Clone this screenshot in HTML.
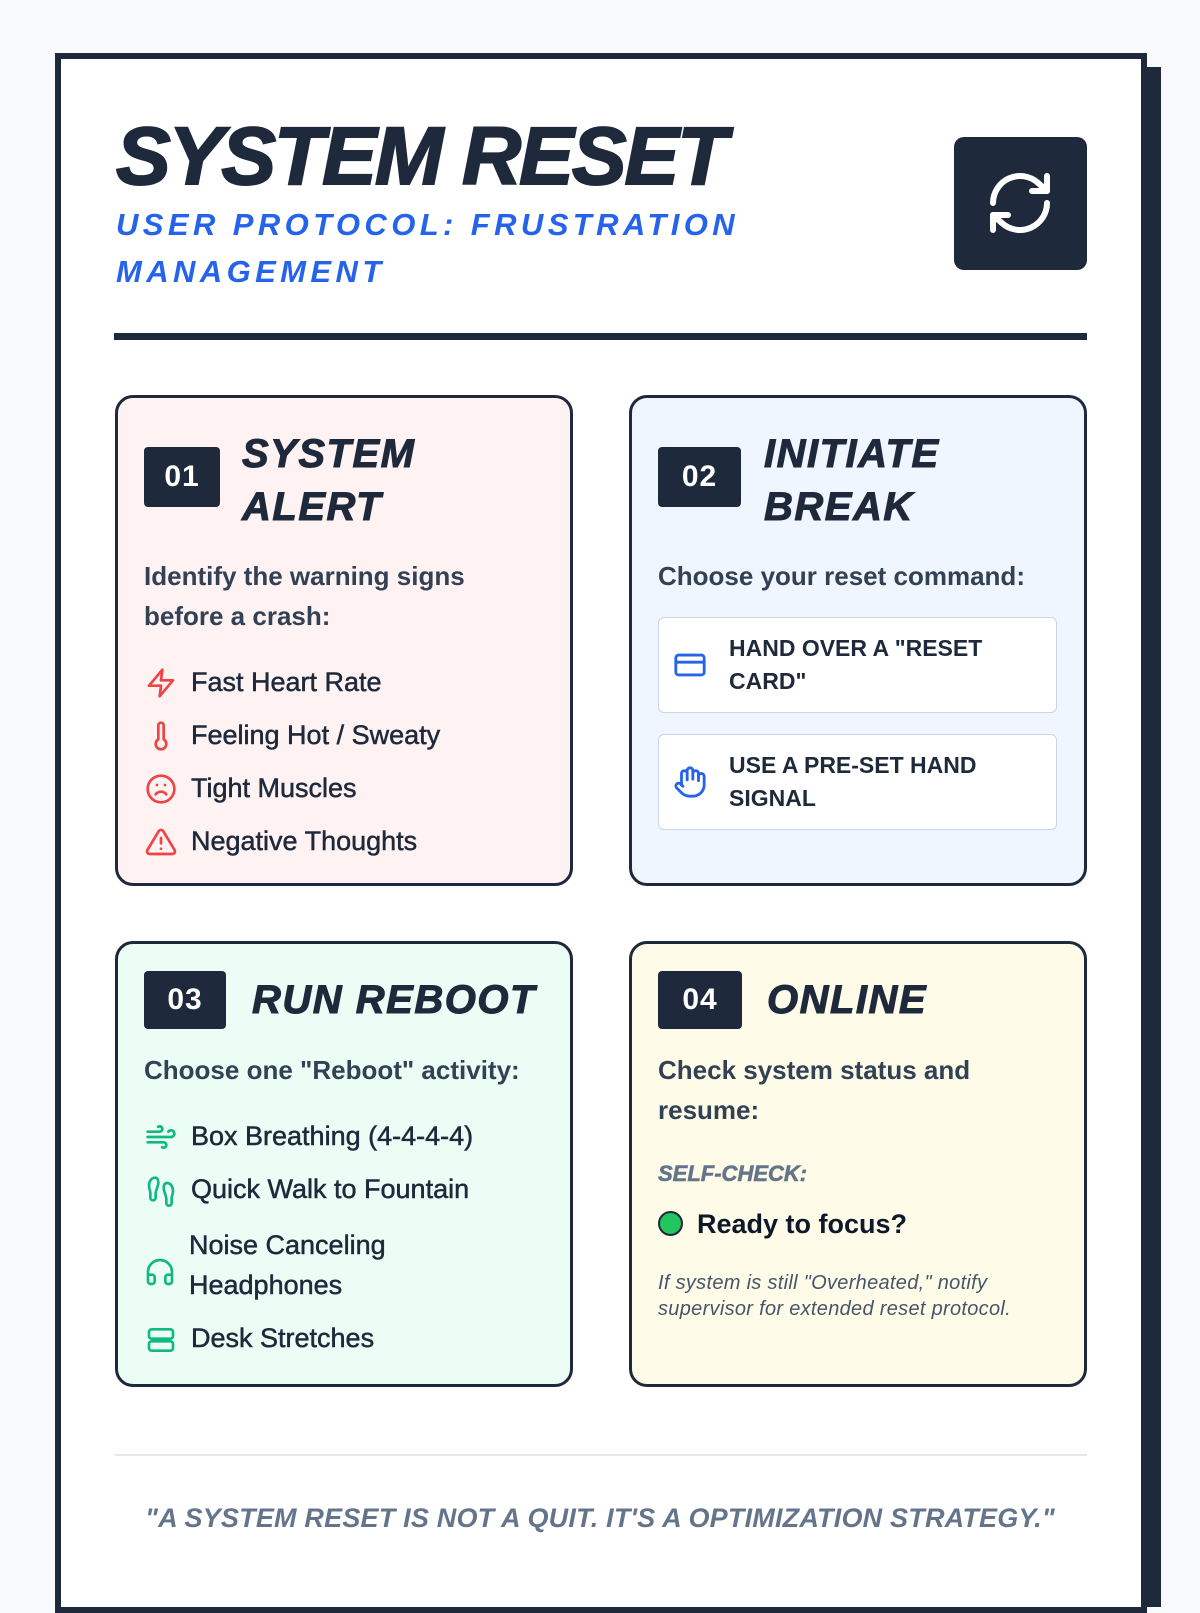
<!DOCTYPE html>
<html><head><meta charset="utf-8"><style>
*{margin:0;padding:0;box-sizing:border-box}
body{width:1200px;height:1600px;background:#f8fafc;position:relative;overflow:hidden;font-family:"Liberation Sans",sans-serif;color:#1e293b}
.a{position:absolute;white-space:nowrap}
.card{position:absolute;border:3px solid #1e293b;border-radius:18px}
.badge{position:absolute;background:#1e293b;color:#fff;font-weight:bold;font-size:30px;display:flex;align-items:center;justify-content:center;border-radius:4px;letter-spacing:1px}
.ttl{font-weight:bold;font-style:italic;font-size:40px;line-height:53px;letter-spacing:1.5px;color:#1e293b;-webkit-text-stroke:1px #1e293b}
.body{font-weight:bold;font-size:26px;line-height:40px;color:#334155}
.li{font-size:27px;line-height:53px;color:#1e293b;-webkit-text-stroke:0.5px #1e293b}
.btn{position:absolute;background:#fff;border:1.5px solid #cbd5e1;border-radius:6px}
.bt{font-weight:bold;font-size:23px;line-height:33px;color:#1e293b}
svg.i{position:absolute;fill:none;stroke-width:2;stroke-linecap:round;stroke-linejoin:round}
</style></head><body>
<div style="position:absolute;left:70px;top:67px;width:1091px;height:1540px;background:#1e293b"></div>
<div style="position:absolute;left:55px;top:53px;width:1092px;height:1560px;background:#fff;border:6px solid #1e293b"></div>

<div class="a" style="left:116px;top:107px;font-size:82px;line-height:100px;font-weight:bold;font-style:italic;letter-spacing:-2px;color:#1e293b;-webkit-text-stroke:2px #1e293b">SYSTEM RESET</div>
<div class="a" style="left:116px;top:201px;font-size:31px;line-height:47px;font-weight:bold;font-style:italic;letter-spacing:4.4px;color:#2563eb">USER PROTOCOL: FRUSTRATION<br>MANAGEMENT</div>
<div style="position:absolute;left:954px;top:137px;width:133px;height:133px;background:#1e293b;border-radius:10px"></div>
<svg class="i" style="left:984px;top:167px" width="72" height="72" viewBox="0 0 24 24" stroke="#fff" stroke-width="2.2"><path d="M3 12a9 9 0 0 1 15-6.7L21 8"/><path d="M21 3v5h-5"/><path d="M21 12a9 9 0 0 1-15 6.7L3 16"/><path d="M8 16H3v5"/></svg>
<div style="position:absolute;left:114px;top:333px;width:973px;height:7px;background:#1e293b"></div>

<!-- card 1 -->
<div class="card" style="left:115px;top:395px;width:458px;height:491px;background:#fef2f2"></div>
<div class="badge" style="left:144px;top:447px;width:76px;height:60px">01</div>
<div class="a ttl" style="left:242px;top:428px">SYSTEM<br>ALERT</div>
<div class="a body" style="left:144px;top:556px">Identify the warning signs<br>before a crash:</div>
<div class="a li" style="left:191px;top:656px">Fast Heart Rate<br>Feeling Hot / Sweaty<br>Tight Muscles<br>Negative Thoughts</div>
<svg class="i" style="left:145px;top:667px" width="32" height="32" viewBox="0 0 24 24" stroke="#ef4444"><path d="M13 2 3 14h9l-1 8 10-12h-9z"/></svg>
<svg class="i" style="left:145px;top:720px" width="32" height="32" viewBox="0 0 24 24" stroke="#ef4444"><path d="M14 4v10.5a4 4 0 1 1-4 0V4a2 2 0 0 1 4 0z"/></svg>
<svg class="i" style="left:145px;top:773px" width="32" height="32" viewBox="0 0 24 24" stroke="#ef4444"><circle cx="12" cy="12" r="10"/><path d="M16 16s-1.5-2-4-2-4 2-4 2"/><path d="M9 9h.01M15 9h.01"/></svg>
<svg class="i" style="left:145px;top:826px" width="32" height="32" viewBox="0 0 24 24" stroke="#ef4444"><path d="M10.3 3.9 1.8 18a2 2 0 0 0 1.7 3h17a2 2 0 0 0 1.7-3L13.7 3.9a2 2 0 0 0-3.4 0z"/><path d="M12 9v4M12 17h.01"/></svg>

<!-- card 2 -->
<div class="card" style="left:629px;top:395px;width:458px;height:491px;background:#eff6ff"></div>
<div class="badge" style="left:658px;top:447px;width:83px;height:60px">02</div>
<div class="a ttl" style="left:764px;top:428px">INITIATE<br>BREAK</div>
<div class="a body" style="left:658px;top:556px">Choose your reset command:</div>
<div class="btn" style="left:658px;top:617px;width:399px;height:96px"></div>
<div class="a bt" style="left:729px;top:632px">HAND OVER A "RESET<br>CARD"</div>
<svg class="i" style="left:673px;top:648px" width="34" height="34" viewBox="0 0 24 24" stroke="#2563eb"><rect x="2" y="5" width="20" height="14" rx="2"/><path d="M2 10h20"/></svg>
<div class="btn" style="left:658px;top:734px;width:399px;height:96px"></div>
<div class="a bt" style="left:729px;top:749px">USE A PRE-SET HAND<br>SIGNAL</div>
<svg class="i" style="left:673px;top:765px" width="34" height="34" viewBox="0 0 24 24" stroke="#2563eb"><path d="M18 11V6a2 2 0 0 0-4 0M14 10V4a2 2 0 0 0-4 0v2M10 10.5V6a2 2 0 0 0-4 0v8"/><path d="M18 8a2 2 0 1 1 4 0v6a8 8 0 0 1-8 8h-2c-2.8 0-4.5-.9-6-2.4l-3.6-3.6a2 2 0 0 1 2.8-2.8L7 15"/></svg>

<!-- card 3 -->
<div class="card" style="left:115px;top:941px;width:458px;height:446px;background:#ecfdf5"></div>
<div class="badge" style="left:144px;top:971px;width:82px;height:58px">03</div>
<div class="a ttl" style="left:252px;top:974px">RUN REBOOT</div>
<div class="a body" style="left:144px;top:1050px">Choose one "Reboot" activity:</div>
<div class="a li" style="left:191px;top:1110px">Box Breathing (4-4-4-4)<br>Quick Walk to Fountain</div>
<div class="a li" style="left:189px;top:1225px;line-height:40px">Noise Canceling<br>Headphones</div>
<div class="a li" style="left:191px;top:1312px">Desk Stretches</div>
<svg class="i" style="left:145px;top:1121px" width="32" height="32" viewBox="0 0 24 24" stroke="#10b981"><path d="M12.8 19.6A2 2 0 1 0 14 16H2M17.5 8a2.5 2.5 0 1 1 2 4H2M9.8 4.4A2 2 0 1 1 11 8H2"/></svg>
<svg class="i" style="left:145px;top:1175px" width="32" height="32" viewBox="0 0 24 24" stroke="#10b981"><path d="M4 16v-2.4C4 11.5 3 10.5 3 8c0-2.7 1.5-6 4.5-6C9.4 2 10 3.8 10 5.5c0 3.1-2 5.7-2 8.7V17a2 2 0 1 1-4 0v-1zM20 20v-2.4c0-2.1 1-3.1 1-5.6 0-2.7-1.5-6-4.5-6C14.6 6 14 7.8 14 9.5c0 3.1 2 5.700 2 8.7V21a2 2 0 1 0 4 0v-1z"/></svg>
<svg class="i" style="left:144px;top:1256px" width="32" height="32" viewBox="0 0 24 24" stroke="#10b981"><path d="M3 14h3a2 2 0 0 1 2 2v3a2 2 0 0 1-2 2H5a2 2 0 0 1-2-2v-7a9 9 0 0 1 18 0v7a2 2 0 0 1-2 2h-1a2 2 0 0 1-2-2v-3a2 2 0 0 1 2-2h3"/></svg>
<svg class="i" style="left:145px;top:1324px" width="32" height="32" viewBox="0 0 24 24" stroke="#10b981"><rect x="3" y="4" width="18" height="7" rx="2"/><rect x="3" y="13" width="18" height="7" rx="2"/></svg>

<!-- card 4 -->
<div class="card" style="left:629px;top:941px;width:458px;height:446px;background:#fefce8"></div>
<div class="badge" style="left:658px;top:971px;width:84px;height:58px">04</div>
<div class="a ttl" style="left:767px;top:974px">ONLINE</div>
<div class="a body" style="left:658px;top:1050px">Check system status and<br>resume:</div>
<div class="a" style="left:658px;top:1160px;font-size:22px;line-height:28px;font-weight:bold;font-style:italic;color:#64748b;-webkit-text-stroke:0.6px #64748b">SELF-CHECK:</div>
<div style="position:absolute;left:658px;top:1211px;width:25px;height:25px;border-radius:50%;background:#22c55e;border:2.5px solid #1e293b"></div>
<div class="a" style="left:697px;top:1207px;font-size:27px;line-height:34px;font-weight:bold;color:#0f172a">Ready to focus?</div>
<div class="a" style="left:658px;top:1270px;font-size:20px;line-height:26px;font-style:italic;color:#475569;letter-spacing:0.3px">If system is still "Overheated," notify<br>supervisor for extended reset protocol.</div>

<div style="position:absolute;left:115px;top:1454px;width:972px;height:2px;background:#e2e8f0"></div>
<div class="a" style="left:0;width:1200px;text-align:center;top:1500px;font-size:27px;line-height:36px;font-weight:bold;font-style:italic;color:#64748b;letter-spacing:0.2px">"A SYSTEM RESET IS NOT A QUIT. IT'S A OPTIMIZATION STRATEGY."</div>
</body></html>
